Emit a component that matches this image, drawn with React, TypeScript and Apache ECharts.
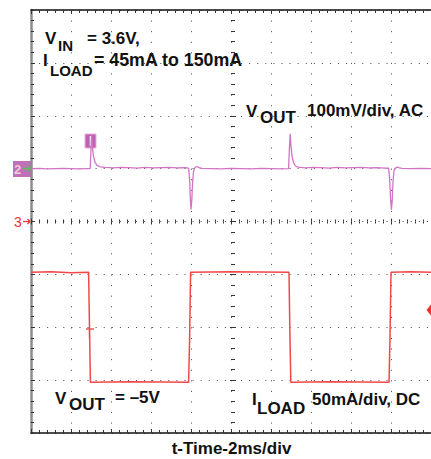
import React, { useEffect, useRef } from "react";
import * as echarts from "echarts";

// time axis: 2 ms/div, 10 divisions
const timeTicksMs = [0, 2, 4, 6, 8, 10, 12, 14, 16, 18, 20];
// screen divisions (8 vertical)
const divTicks = [-4, -3, -2, -1, 0, 1, 2, 3, 4];

// VOUT, AC coupled, 100 mV/div, ground marker at +1 div  [ms, mV]
const voutTrace: [number, number][] = [
  [0, 0], [0.4, 0.5], [0.8, -0.5], [1.2, 0], [1.6, 0.5], [2.0, 0], [2.4, -0.5], [2.8, 0],
  [2.96, 0], [3.0, 36], [3.03, 64], [3.07, 42], [3.12, 24], [3.2, 12], [3.3, 6], [3.45, 3.5],
  [3.7, 2.5], [4.1, 1.5], [4.5, 2.5], [4.9, 2], [5.3, 1], [5.7, 2.5], [6.1, 1.5], [6.5, 2],
  [6.9, 2.5], [7.3, 1.5], [7.7, 2], [7.88, 1], [7.93, -20], [7.97, -60], [8.0, -77], [8.04, -60],
  [8.08, -25], [8.13, -4], [8.2, 2], [8.28, 4], [8.4, 2], [8.55, 0.5], [9.0, 0], [9.5, -0.5],
  [10, 0.5], [10.5, 0], [11, -0.5], [11.5, 0.5], [12, 0], [12.5, -0.5], [12.88, 0], [12.92, 38],
  [12.96, 66], [13.0, 42], [13.05, 24], [13.12, 12], [13.2, 6], [13.3, 3.5], [13.45, 2.5], [13.7, 1.5],
  [14.1, 2.5], [14.5, 2], [14.9, 1], [15.3, 2.5], [15.7, 1.5], [16.1, 2], [16.5, 2.5], [16.9, 1.5],
  [17.3, 2], [17.7, 1], [17.88, 1], [17.93, -18], [17.98, -58], [18.02, -78], [18.06, -60], [18.1, -25],
  [18.15, -4], [18.22, 1], [18.32, 3], [18.42, 1.5], [18.55, 0.3], [19, 0], [19.5, 0.5], [20, 0],
];

// ILOAD, DC, 50 mA/div, ground marker at centre  [ms, mA]
const iloadTrace: [number, number][] = [
  [0, -48], [1, -47.5], [2, -48.5], [2.88, -48], [2.92, -95], [2.97, -152], [5, -151.5],
  [7.88, -152], [7.93, -112], [7.98, -48], [10, -47.5], [12.9, -48], [12.94, -100], [12.99, -152],
  [15, -151.5], [17.9, -152], [17.95, -110], [18.0, -48], [19, -47.5], [20, -48],
];

const FONT = '"Liberation Sans", Arial, Helvetica, sans-serif';
const B17 = `bold 17px ${FONT}`;
const B15 = `bold 15px ${FONT}`;

export default function App() {
  const ref = useRef<HTMLDivElement>(null);
  useEffect(() => {
    if (!ref.current) return;
    const chart = echarts.init(ref.current, null, { renderer: "svg" });
    const tickStyle = { color: "#333", width: 1 };
    const baseX = {
      type: "value" as const,
      min: timeTicksMs[0],
      max: timeTicksMs[timeTicksMs.length - 1],
      interval: timeTicksMs[1] - timeTicksMs[0],
      axisLabel: { show: false },
    };
    const baseY = {
      type: "value" as const,
      min: divTicks[0],
      max: divTicks[divTicks.length - 1],
      interval: 1,
      axisLabel: { show: false },
    };
    const txt = (text: string, x: number, y: number, font = B17, fill = "#111", align = "left") => ({
      type: "text",
      x,
      y,
      silent: true,
      style: { text, font, fill, textAlign: align, textVerticalAlign: "middle" },
    });
    chart.setOption({
      animation: false,
      backgroundColor: "#fff",
      grid: { left: 31, top: 10, width: 404, height: 423 },
      xAxis: [
        {
          ...baseX,
          position: "bottom",
          axisLine: { show: true, onZero: false, lineStyle: { color: "#111", width: 1.5 } },
          axisTick: { show: true, inside: true, length: 4, lineStyle: tickStyle },
          minorTick: { show: true, splitNumber: 5, length: 3, lineStyle: tickStyle },
          splitLine: { show: true, lineStyle: { color: "#444", width: 1, type: [1, 9.58] } },
        },
        {
          ...baseX,
          position: "top",
          axisLine: { show: true, onZero: false, lineStyle: { color: "#111", width: 1.5 } },
          axisTick: { show: true, inside: true, length: 4, lineStyle: tickStyle },
          minorTick: { show: true, splitNumber: 5, length: 3, lineStyle: tickStyle },
          splitLine: { show: false },
        },
        {
          ...baseX,
          position: "bottom",
          offset: -211.5,
          axisLine: { show: false, onZero: false },
          axisTick: { show: true, inside: true, length: 3, lineStyle: tickStyle },
          minorTick: { show: true, splitNumber: 5, length: 2, lineStyle: tickStyle },
          splitLine: { show: false },
        },
        {
          ...baseX,
          position: "bottom",
          offset: -211.5,
          axisLine: { show: false, onZero: false },
          axisTick: { show: true, inside: false, length: 3, lineStyle: tickStyle },
          minorTick: { show: true, splitNumber: 5, length: 2, lineStyle: tickStyle },
          splitLine: { show: false },
        },
      ],
      yAxis: [
        {
          ...baseY,
          position: "left",
          axisLine: { show: true, onZero: false, lineStyle: { color: "#8c8c8c", width: 2.5 } },
          axisTick: { show: true, inside: true, length: 4, lineStyle: tickStyle },
          minorTick: { show: true, splitNumber: 5, length: 3, lineStyle: tickStyle },
          splitLine: { show: true, lineStyle: { color: "#444", width: 1, type: [1, 7.08] } },
        },
        {
          ...baseY,
          position: "left",
          offset: -202,
          axisLine: { show: false, onZero: false },
          axisTick: { show: true, inside: true, length: 3, lineStyle: tickStyle },
          minorTick: { show: true, splitNumber: 5, length: 2, lineStyle: tickStyle },
          splitLine: { show: false },
        },
        {
          ...baseY,
          position: "left",
          offset: -202,
          axisLine: { show: false, onZero: false },
          axisTick: { show: true, inside: false, length: 3, lineStyle: tickStyle },
          minorTick: { show: true, splitNumber: 5, length: 2, lineStyle: tickStyle },
          splitLine: { show: false },
        },
        // VOUT scale: 100 mV/div, zero at +1 div
        { type: "value", min: -500, max: 300, show: false },
        // ILOAD scale: 50 mA/div, zero at centre
        { type: "value", min: -200, max: 200, show: false },
      ],
      series: [
        {
          name: "ILOAD",
          type: "line",
          xAxisIndex: 0,
          yAxisIndex: 4,
          data: iloadTrace,
          showSymbol: false,
          lineStyle: { color: "#f04848", width: 1.5 },
          z: 3,
        },
        {
          name: "VOUT",
          type: "line",
          xAxisIndex: 0,
          yAxisIndex: 3,
          data: voutTrace,
          showSymbol: false,
          lineStyle: { color: "#d274c6", width: 1.3 },
          z: 4,
        },
      ],
      graphic: [
        // channel 2 marker
        { type: "rect", silent: true, shape: { x: 13, y: 161, width: 18, height: 16 }, style: { fill: "#c070b8" } },
        txt("2", 17.5, 169.5, `bold 13px ${FONT}`, "#f8c8d8", "center"),
        { type: "line", silent: true, shape: { x1: 22, y1: 168.5, x2: 30, y2: 168.5 }, style: { stroke: "#58c058", lineWidth: 1.3 } },
        { type: "polyline", silent: true, shape: { points: [[27, 165.5], [30, 168.5], [27, 171.5]] }, style: { stroke: "#58c058", lineWidth: 1.3, fill: null } },
        // channel 3 marker
        txt("3", 18, 221.5, `14px ${FONT}`, "#f03030", "center"),
        { type: "line", silent: true, shape: { x1: 23, y1: 221.5, x2: 30, y2: 221.5 }, style: { stroke: "#f03030", lineWidth: 1.2 } },
        { type: "polyline", silent: true, shape: { points: [[27.5, 219], [30, 221.5], [27.5, 224]] }, style: { stroke: "#f03030", lineWidth: 1.2, fill: null } },
        // trigger position marker
        { type: "rect", silent: true, shape: { x: 85, y: 134, width: 11, height: 14 }, style: { fill: "#c060b0", stroke: "#e8b0e0", lineWidth: 1 } },
        { type: "line", silent: true, shape: { x1: 90.5, y1: 136, x2: 90.5, y2: 146 }, style: { stroke: "#ffffff", lineWidth: 1.5 } },
        // trigger level marker
        { type: "polygon", silent: true, shape: { points: [[426.5, 310], [431, 304.5], [431, 315.5]] }, style: { fill: "#f03030" } },
        // small T on ILOAD trace
        { type: "line", silent: true, shape: { x1: 86, y1: 329, x2: 94, y2: 329 }, style: { stroke: "#e83030", lineWidth: 1.2 } },
        { type: "line", silent: true, shape: { x1: 89.5, y1: 329, x2: 89.5, y2: 339 }, style: { stroke: "#e83030", lineWidth: 1.2 } },
        // labels
        txt("V", 45, 38.5),
        txt("IN", 58, 45.5, B15),
        txt("= 3.6V,", 87, 38.5),
        txt("I", 43, 60),
        txt("LOAD", 50, 70, B15),
        txt("= 45mA to 150mA", 94, 60, `bold 17.8px ${FONT}`),
        txt("V", 246, 111.5),
        txt("OUT", 260, 117.5),
        txt("100mV/div, AC", 307, 110.5),
        txt("V", 55, 398),
        txt("OUT", 69, 404.5),
        txt("= \u20135V", 115, 397.5),
        txt("I", 252, 399),
        txt("LOAD", 257, 408),
        txt("50mA/div, DC", 312, 399),
        txt("t-Time-2ms/div", 231.5, 448, B17, "#111", "center"),
      ],
    });
    return () => chart.dispose();
  }, []);
  return (
    <div
      ref={ref}
      style={{ position: "absolute", left: 0, top: 0, width: 431, height: 459 }}
    />
  );
}
